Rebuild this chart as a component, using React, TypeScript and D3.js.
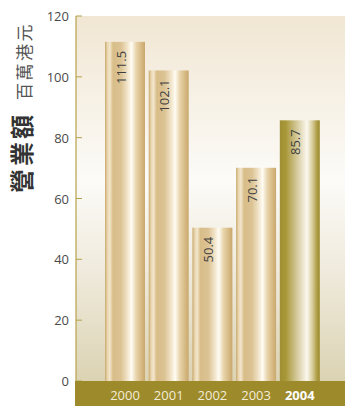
import React from "react";
import * as d3 from "d3";

const years = ["2000", "2001", "2002", "2003", "2004"];
const values = [111.5, 102.1, 50.4, 70.1, 85.7];
const valueLabels = ["111.5", "102.1", "50.4", "70.1", "85.7"];
const yTicks = [0, 20, 40, 60, 80, 100, 120];
const titleMain = "營業額";
const titleUnit = "百萬港元";
const highlightYear = "2004";

const W = 345;
const H = 406;
const plotLeft = 76;
const plotRight = 345;
const plotTop = 16;
const plotBottom = 381;
const font = "'Open Sans', 'Noto Sans', sans-serif";

export default function App() {
  const y = d3.scaleLinear().domain([0, 120]).range([plotBottom, plotTop]);
  const x = d3.scaleBand<string>().domain(years).range([101.3, 323.5]).padding(0.085);

  return (
    <svg
      width={W}
      height={H}
      style={{ position: "absolute", left: 0, top: 0, display: "block" }}
      fontFamily={font}
    >
      <defs>
        <linearGradient id="bg" x1="0" y1="0" x2="0" y2="1">
          <stop offset="0" stopColor="#f1e6d3" />
          <stop offset="0.45" stopColor="#fcfbf8" />
          <stop offset="0.7" stopColor="#efeadc" />
          <stop offset="1" stopColor="#dcd3b3" />
        </linearGradient>
        <linearGradient id="barTan" x1="0" y1="0" x2="1" y2="0">
          <stop offset="0" stopColor="#c9a96c" />
          <stop offset="0.06" stopColor="#e9d6b0" />
          <stop offset="0.12" stopColor="#f3e6cc" />
          <stop offset="0.2" stopColor="#d8bd88" />
          <stop offset="0.4" stopColor="#dcc394" />
          <stop offset="0.55" stopColor="#f0e2c6" />
          <stop offset="0.66" stopColor="#fffcf4" />
          <stop offset="0.78" stopColor="#e8d4ab" />
          <stop offset="0.92" stopColor="#d5b780" />
          <stop offset="1" stopColor="#c8a86e" />
        </linearGradient>
        <linearGradient id="barOlive" x1="0" y1="0" x2="1" y2="0">
          <stop offset="0" stopColor="#a08f33" />
          <stop offset="0.15" stopColor="#a89838" />
          <stop offset="0.35" stopColor="#c8bb80" />
          <stop offset="0.55" stopColor="#e8e0c4" />
          <stop offset="0.68" stopColor="#fbf8ee" />
          <stop offset="0.82" stopColor="#d6cb98" />
          <stop offset="0.93" stopColor="#ad9d45" />
          <stop offset="1" stopColor="#9c8a2b" />
        </linearGradient>
      </defs>

      <rect x={plotLeft} y={plotTop} width={plotRight - plotLeft} height={plotBottom - plotTop} fill="url(#bg)" />

      {years.map((yr, i) => {
        const bx = x(yr)!;
        const bw = x.bandwidth();
        const top = y(values[i]);
        return (
          <g key={yr}>
            <rect
              x={bx}
              y={top}
              width={bw}
              height={plotBottom - top}
              fill={yr === highlightYear ? "url(#barOlive)" : "url(#barTan)"}
            />
            <text
              transform={`translate(${bx + bw / 2 + 0.5},${top + 9}) rotate(-90)`}
              fontSize={13}
              fill="#3f3f3f"
              textAnchor="end"
            >
              {valueLabels[i]}
            </text>
          </g>
        );
      })}

      <line x1={plotLeft} x2={plotLeft} y1={plotTop} y2={plotBottom} stroke="#b5a24c" strokeWidth={1.2} />
      {yTicks.map((t) => (
        <g key={t}>
          <line x1={plotLeft} x2={plotLeft + 6} y1={y(t)} y2={y(t)} stroke="#b5a24c" strokeWidth={1} />
          <text
            x={69}
            y={y(t)}
            textAnchor="end"
            dominantBaseline="central"
            fontSize={13}
            fill="#4a4a4a"
          >
            {t}
          </text>
        </g>
      ))}

      <rect x={plotLeft - 1} y={plotBottom} width={plotRight - plotLeft + 1} height={H - plotBottom} fill="#9c8a2b" />
      {years.map((yr) => (
        <text
          key={yr}
          x={x(yr)! + x.bandwidth() / 2}
          y={395}
          textAnchor="middle"
          dominantBaseline="central"
          fontSize={13}
          fontWeight={yr === highlightYear ? 700 : 400}
          fill={yr === highlightYear ? "#ffffff" : "#f2ecd6"}
        >
          {yr}
        </text>
      ))}

      <text
        transform="translate(31,193) rotate(-90)"
        fill="#333333"
        fontFamily="'Noto Sans CJK TC', 'Noto Sans CJK SC', sans-serif"
      >
        <tspan fontSize={24} fontWeight={700} letterSpacing={3}>{titleMain}</tspan>
        <tspan dx={12} fontSize={17} fontWeight={400} letterSpacing={2.5} fill="#555555">{titleUnit}</tspan>
      </text>
    </svg>
  );
}
